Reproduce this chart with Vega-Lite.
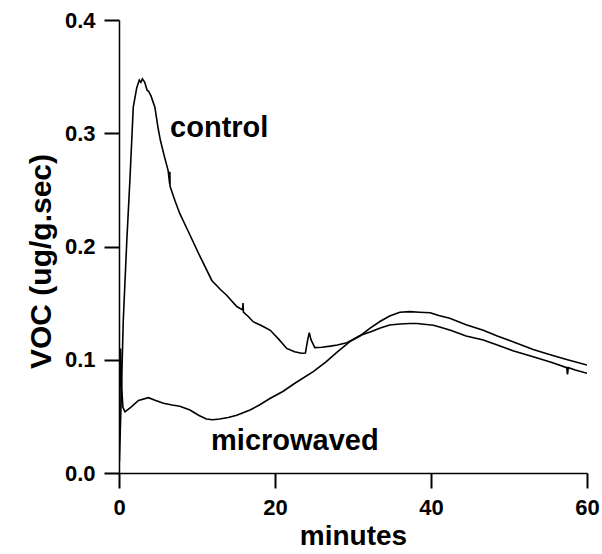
{
  "$schema": "https://vega.github.io/schema/vega-lite/v6.json",
  "width": 468,
  "height": 453,
  "autosize": "none",
  "padding": {"left": 119, "top": 20, "right": 15, "bottom": 81},
  "background": "white",
  "config": {
    "view": {"stroke": null},
    "font": "Liberation Sans",
    "axis": {
      "domainColor": "black", "domainWidth": 1.5,
      "labelColor": "black", "labelFont": "Liberation Sans", "labelFontWeight": "bold", "labelFontSize": 22,
      "titleColor": "black", "titleFont": "Liberation Sans", "titleFontWeight": "bold", "titleFontSize": 28,
      "grid": false
    }
  },
  "datasets": {
    "curves": [
      {"series": "control", "t": 0.05, "v": 0.01},
      {"series": "control", "t": 0.3, "v": 0.07},
      {"series": "control", "t": 0.55, "v": 0.135},
      {"series": "control", "t": 1.0, "v": 0.205},
      {"series": "control", "t": 1.4, "v": 0.259},
      {"series": "control", "t": 1.83, "v": 0.323},
      {"series": "control", "t": 2.27, "v": 0.34},
      {"series": "control", "t": 2.6, "v": 0.347},
      {"series": "control", "t": 2.8, "v": 0.345},
      {"series": "control", "t": 3.0, "v": 0.348},
      {"series": "control", "t": 3.3, "v": 0.345},
      {"series": "control", "t": 3.6, "v": 0.338},
      {"series": "control", "t": 3.8, "v": 0.337},
      {"series": "control", "t": 4.1, "v": 0.333},
      {"series": "control", "t": 4.6, "v": 0.323},
      {"series": "control", "t": 5.0, "v": 0.305},
      {"series": "control", "t": 5.3, "v": 0.294},
      {"series": "control", "t": 5.8, "v": 0.28},
      {"series": "control", "t": 6.3, "v": 0.267},
      {"series": "control", "t": 6.5, "v": 0.255},
      {"series": "control", "t": 6.52, "v": 0.266},
      {"series": "control", "t": 6.55, "v": 0.253},
      {"series": "control", "t": 7.2, "v": 0.24},
      {"series": "control", "t": 7.8, "v": 0.229},
      {"series": "control", "t": 8.9, "v": 0.213},
      {"series": "control", "t": 10.4, "v": 0.191},
      {"series": "control", "t": 11.9, "v": 0.17},
      {"series": "control", "t": 13.0, "v": 0.162},
      {"series": "control", "t": 13.8, "v": 0.157},
      {"series": "control", "t": 15.1, "v": 0.147},
      {"series": "control", "t": 15.85, "v": 0.144},
      {"series": "control", "t": 15.9, "v": 0.15},
      {"series": "control", "t": 15.95, "v": 0.142},
      {"series": "control", "t": 16.6, "v": 0.138},
      {"series": "control", "t": 17.2, "v": 0.1336},
      {"series": "control", "t": 18.3, "v": 0.13},
      {"series": "control", "t": 19.4, "v": 0.126},
      {"series": "control", "t": 20.5, "v": 0.118},
      {"series": "control", "t": 21.5, "v": 0.11},
      {"series": "control", "t": 22.5, "v": 0.107},
      {"series": "control", "t": 23.4, "v": 0.1057},
      {"series": "control", "t": 23.9, "v": 0.106},
      {"series": "control", "t": 24.2, "v": 0.118},
      {"series": "control", "t": 24.4, "v": 0.124},
      {"series": "control", "t": 24.6, "v": 0.118},
      {"series": "control", "t": 25.1, "v": 0.1107},
      {"series": "control", "t": 26.0, "v": 0.111},
      {"series": "control", "t": 27.1, "v": 0.112},
      {"series": "control", "t": 28.0, "v": 0.113},
      {"series": "control", "t": 29.2, "v": 0.115},
      {"series": "control", "t": 30.0, "v": 0.118},
      {"series": "control", "t": 30.9, "v": 0.1215},
      {"series": "control", "t": 32.2, "v": 0.1245},
      {"series": "control", "t": 33.5, "v": 0.128},
      {"series": "control", "t": 34.7, "v": 0.1307},
      {"series": "control", "t": 36.0, "v": 0.1315},
      {"series": "control", "t": 37.3, "v": 0.132},
      {"series": "control", "t": 38.2, "v": 0.132},
      {"series": "control", "t": 40.3, "v": 0.1305},
      {"series": "control", "t": 41.1, "v": 0.129},
      {"series": "control", "t": 42.5, "v": 0.126},
      {"series": "control", "t": 44.5, "v": 0.121},
      {"series": "control", "t": 46.7, "v": 0.1174},
      {"series": "control", "t": 48.5, "v": 0.113},
      {"series": "control", "t": 50.5, "v": 0.108},
      {"series": "control", "t": 53.1, "v": 0.1027},
      {"series": "control", "t": 55.5, "v": 0.0975},
      {"series": "control", "t": 57.4, "v": 0.093},
      {"series": "control", "t": 57.5, "v": 0.087},
      {"series": "control", "t": 57.6, "v": 0.093},
      {"series": "control", "t": 58.5, "v": 0.091},
      {"series": "control", "t": 60.0, "v": 0.088},
      {"series": "microwaved", "t": 0.0, "v": 0.01},
      {"series": "microwaved", "t": 0.1, "v": 0.06},
      {"series": "microwaved", "t": 0.2, "v": 0.11},
      {"series": "microwaved", "t": 0.35, "v": 0.075},
      {"series": "microwaved", "t": 0.5, "v": 0.058},
      {"series": "microwaved", "t": 0.77, "v": 0.054},
      {"series": "microwaved", "t": 1.5, "v": 0.058},
      {"series": "microwaved", "t": 2.5, "v": 0.064},
      {"series": "microwaved", "t": 3.77, "v": 0.0665},
      {"series": "microwaved", "t": 4.7, "v": 0.064},
      {"series": "microwaved", "t": 5.7, "v": 0.0615},
      {"series": "microwaved", "t": 6.8, "v": 0.06},
      {"series": "microwaved", "t": 7.8, "v": 0.059},
      {"series": "microwaved", "t": 9.1, "v": 0.0556},
      {"series": "microwaved", "t": 10.2, "v": 0.051},
      {"series": "microwaved", "t": 11.2, "v": 0.0477},
      {"series": "microwaved", "t": 12.0, "v": 0.047},
      {"series": "microwaved", "t": 12.9, "v": 0.0477},
      {"series": "microwaved", "t": 14.0, "v": 0.049},
      {"series": "microwaved", "t": 15.1, "v": 0.051},
      {"series": "microwaved", "t": 16.8, "v": 0.0556},
      {"series": "microwaved", "t": 18.0, "v": 0.06},
      {"series": "microwaved", "t": 19.4, "v": 0.066},
      {"series": "microwaved", "t": 21.0, "v": 0.072},
      {"series": "microwaved", "t": 22.5, "v": 0.079},
      {"series": "microwaved", "t": 24.9, "v": 0.0895},
      {"series": "microwaved", "t": 26.5, "v": 0.098},
      {"series": "microwaved", "t": 28.0, "v": 0.107},
      {"series": "microwaved", "t": 29.6, "v": 0.116},
      {"series": "microwaved", "t": 30.9, "v": 0.121},
      {"series": "microwaved", "t": 32.2, "v": 0.128},
      {"series": "microwaved", "t": 33.5, "v": 0.134},
      {"series": "microwaved", "t": 34.7, "v": 0.1386},
      {"series": "microwaved", "t": 36.0, "v": 0.142},
      {"series": "microwaved", "t": 37.3, "v": 0.1425},
      {"series": "microwaved", "t": 38.5, "v": 0.142},
      {"series": "microwaved", "t": 39.9, "v": 0.1415},
      {"series": "microwaved", "t": 41.0, "v": 0.139},
      {"series": "microwaved", "t": 42.4, "v": 0.1366},
      {"series": "microwaved", "t": 44.5, "v": 0.131},
      {"series": "microwaved", "t": 46.7, "v": 0.126},
      {"series": "microwaved", "t": 48.5, "v": 0.121},
      {"series": "microwaved", "t": 50.5, "v": 0.116},
      {"series": "microwaved", "t": 53.1, "v": 0.109},
      {"series": "microwaved", "t": 55.5, "v": 0.104},
      {"series": "microwaved", "t": 57.5, "v": 0.1},
      {"series": "microwaved", "t": 60.0, "v": 0.0954}
    ]
  },
  "layer": [
    {
      "data": {"name": "curves"},
      "mark": {"type": "line", "color": "black", "strokeWidth": 1.6, "clip": true},
      "encoding": {
        "x": {
          "field": "t", "type": "quantitative",
          "scale": {"domain": [0, 60], "nice": false, "zero": false},
          "axis": {
            "title": "minutes",
            "values": [0, 20, 40, 60],
            "tickColor": "black",
            "tickSize": 15,
            "tickWidth": 2,
            "labelPadding": 9,
            "labelAlign": "center",
            "titlePadding": 4
          }
        },
        "y": {
          "field": "v", "type": "quantitative",
          "scale": {"domain": [0, 0.4], "nice": false, "zero": false},
          "axis": {
            "title": "VOC (ug/g.sec)",
            "values": [0, 0.1, 0.2, 0.3, 0.4],
            "format": ".1f",
            "tickColor": "black",
            "tickSize": 15,
            "tickWidth": 2,
            "labelPadding": 9,
            "labelBaseline": "middle",
            "titleFontSize": 30,
            "titleY": 241,
            "titlePadding": 8
          }
        },
        "detail": {"field": "series", "type": "nominal"},
        "order": {"field": "t", "type": "quantitative"}
      }
    },
    {
      "data": {"values": [{}]},
      "mark": {"type": "text", "text": "control", "align": "left", "baseline": "alphabetic", "font": "Liberation Sans", "fontWeight": "bold", "fontSize": 29, "color": "black"},
      "encoding": {"x": {"datum": 6.55, "type": "quantitative"}, "y": {"datum": 0.297, "type": "quantitative"}}
    },
    {
      "data": {"values": [{}]},
      "mark": {"type": "text", "text": "microwaved", "align": "left", "baseline": "alphabetic", "font": "Liberation Sans", "fontWeight": "bold", "fontSize": 29, "color": "black"},
      "encoding": {"x": {"datum": 11.8, "type": "quantitative"}, "y": {"datum": 0.0205, "type": "quantitative"}}
    }
  ]
}
